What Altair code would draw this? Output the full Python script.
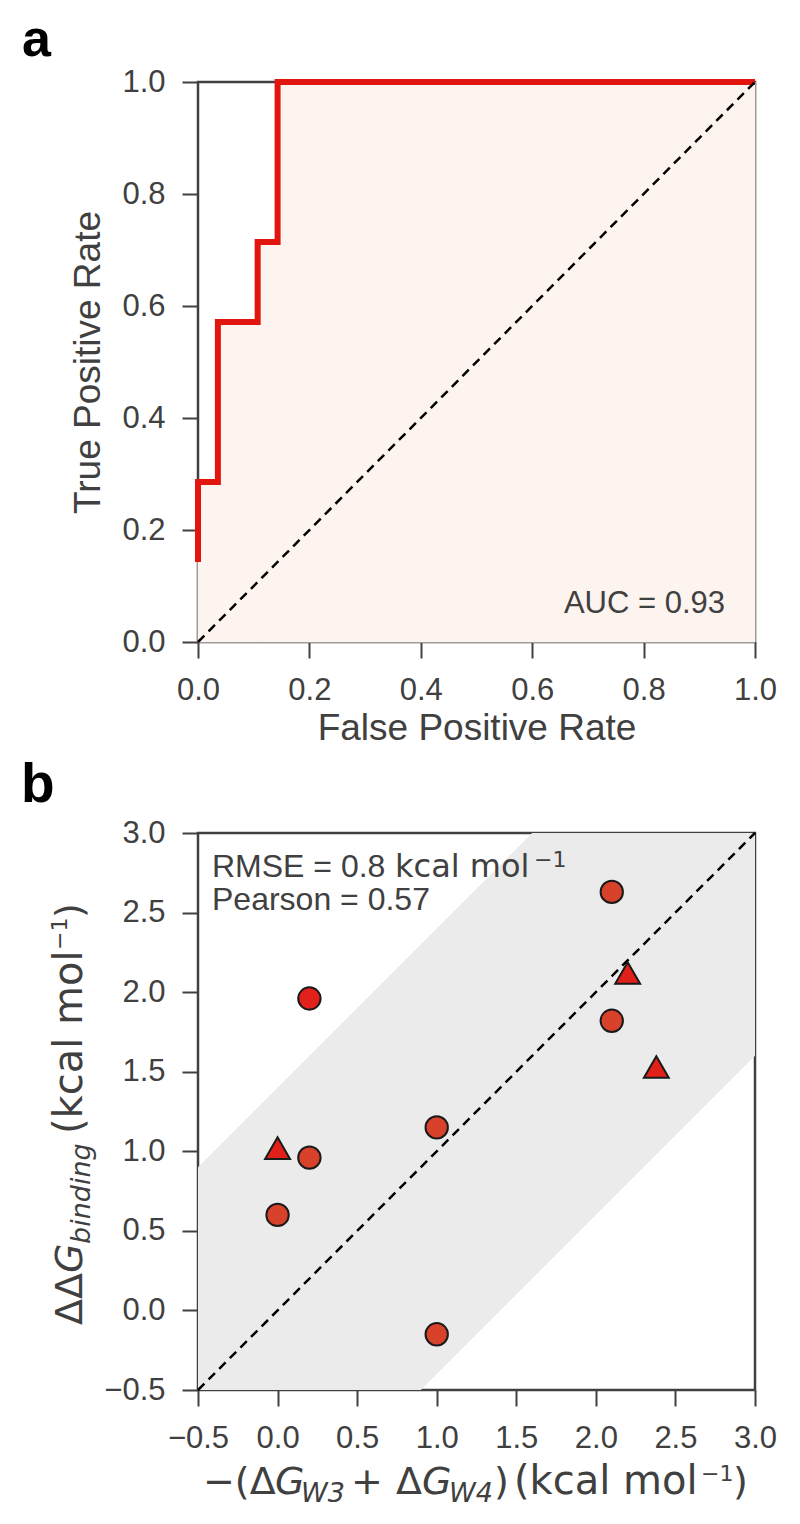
import altair as alt
import pandas as pd

# ---------------- Panel a: ROC curve ----------------
roc_fpr = [0.0, 0.0, 0.0357, 0.0357, 0.1071, 0.1071, 0.1429, 0.1429, 1.0]
roc_tpr = [0.1429, 0.2857, 0.2857, 0.5714, 0.5714, 0.7143, 0.7143, 1.0, 1.0]
diag_a = [0.0, 1.0]
ticks_a = [0.0, 0.2, 0.4, 0.6, 0.8, 1.0]
auc_text = "AUC = 0.93"

# ---------------- Panel b: scatter ----------------
circle_x = [2.1, 2.1, 0.2, 1.0, 0.2, 0.0, 1.0]
circle_y = [2.63, 1.82, 1.96, 1.15, 0.96, 0.60, -0.15]
circle_grp = ["in", "in", "out", "in", "in", "in", "in"]
tri_x = [2.2, 2.38, 0.0]
tri_y = [2.12, 1.53, 1.02]
diag_b = [-0.5, 3.0]
band_halfwidth = 1.4
ticks_b = [-0.5, 0.0, 0.5, 1.0, 1.5, 2.0, 2.5, 3.0]

GREY = "#404040"
SANS = "Liberation Sans"
MATH = "DejaVu Sans"


def piece(text, x, y, size=38, italic=False, angle=0, font=MATH,
          weight="normal", align="left", color=GREY):
    return alt.Chart(pd.DataFrame({"t": [text]})).mark_text(
        align=align, baseline="alphabetic", font=font, fontSize=size,
        fontStyle="italic" if italic else "normal", fontWeight=weight,
        angle=angle, color=color,
    ).encode(x=alt.value(x), y=alt.value(y), text="t:N")


W_A, H_A = 557, 560
W_B, H_B = 557, 557

# ---- panel a layers
sc_a = alt.Scale(domain=[0, 1], nice=False)
xa = alt.X("x:Q", scale=sc_a,
           axis=alt.Axis(values=ticks_a, format=".1f", title="False Positive Rate"))
ya = alt.Y("y:Q", scale=sc_a,
           axis=alt.Axis(values=ticks_a, format=".1f", title="True Positive Rate"))

# area under the step curve, built from the horizontal segments of the ROC curve
seg = [(roc_fpr[k], roc_fpr[k + 1], roc_tpr[k])
       for k in range(len(roc_fpr) - 1)
       if roc_tpr[k] == roc_tpr[k + 1] and roc_fpr[k + 1] > roc_fpr[k]]
df_fill = pd.DataFrame({"x": [s[0] for s in seg], "x2": [s[1] for s in seg],
                        "y": [s[2] for s in seg], "y0": [0.0] * len(seg)})
df_roc = pd.DataFrame({"x": roc_fpr, "y": roc_tpr, "i": range(len(roc_fpr))})
df_diag_a = pd.DataFrame({"x": diag_a, "y": diag_a})

FILL = "#fdf3ef"
fill_a = alt.Chart(df_fill).mark_rect(color=FILL, stroke=FILL,
                                      strokeWidth=1, opacity=1).encode(
    x=xa, x2="x2:Q", y=ya, y2="y0:Q")
roc_line = alt.Chart(df_roc).mark_line(color="#e3160f", strokeWidth=6,
                                       interpolate="linear", strokeJoin="miter").encode(
    x="x:Q", y="y:Q", order="i:Q")
diag_line_a = alt.Chart(df_diag_a).mark_line(color="black", strokeWidth=2.5,
                                             strokeDash=[9, 6]).encode(x="x:Q", y="y:Q")

panel_a = alt.layer(
    fill_a, roc_line, diag_line_a,
    piece(auc_text, 527, 531, size=31, font=SANS, align="right", color=GREY),
    piece("a", -176, -26, size=52, font=SANS, weight="bold", color="black"),
).properties(width=W_A, height=H_A)

# ---- panel b layers
sc_b = alt.Scale(domain=[-0.5, 3.0], nice=False)
xb = alt.X("x:Q", scale=sc_b, axis=alt.Axis(values=ticks_b, format=".1f", title=None))

df_band = pd.DataFrame({"x": diag_b,
                        "lo": [v - band_halfwidth for v in diag_b],
                        "hi": [v + band_halfwidth for v in diag_b]})
df_diag_b = pd.DataFrame({"x": diag_b, "y": diag_b})
df_circ = pd.DataFrame({"x": circle_x, "y": circle_y, "g": circle_grp})
df_tri = pd.DataFrame({"x": tri_x, "y": tri_y})

band = alt.Chart(df_band).mark_area(color="#ebebeb", opacity=1, clip=True).encode(
    x=xb, y=alt.Y("hi:Q", stack=None, scale=sc_b,
                  axis=alt.Axis(values=ticks_b, format=".1f", title=None)),
    y2="lo:Q")
diag_line_b = alt.Chart(df_diag_b).mark_line(color="black", strokeWidth=2.5,
                                             strokeDash=[9, 6]).encode(x="x:Q", y="y:Q")
circles = alt.Chart(df_circ).mark_point(shape="circle", filled=True, size=500,
                                        stroke="#1a1a1a", strokeWidth=2, opacity=1).encode(
    x="x:Q", y="y:Q",
    fill=alt.Fill("g:N", scale=alt.Scale(domain=["in", "out"], range=["#d8412a", "#e2201c"]),
                  legend=None))
triangles = alt.Chart(df_tri).mark_point(shape="triangle-up", filled=True, size=620,
                                         fill="#e2201a", stroke="#1a1a1a", strokeWidth=2,
                                         opacity=1).encode(x="x:Q", y="y:Q")

annot_b = [
    piece("RMSE = 0.8", 14, 44, size=32, font=SANS),
    piece("kcal mol", 197, 44, size=32, font=MATH),
    piece("\u22121", 336, 34, size=22, font=MATH),
    piece("Pearson = 0.57", 14, 77, size=32, font=SANS),
]

# x axis title: -(dG_W3 + dG_W4) (kcal mol^-1)
XT, XS, XP = 661, 669, 648
xtitle_b = [
    piece("\u2212(\u0394", 5, XT),
    piece("G", 77, XT, italic=True),
    piece("W3", 103, XS, size=27, italic=True),
    piece("+", 153, XT),
    piece("\u0394", 198, XT),
    piece("G", 224, XT, italic=True),
    piece("W4", 251, XS, size=27, italic=True),
    piece(")", 296, XT),
    piece("(kcal mol", 316, XT, size=40),
    piece("\u22121", 503, XP, size=22),
    piece(")", 535, XT),
]

# y axis title: ddG_binding (kcal mol^-1), rotated
YB, YS, YP = -116, -108, -131
ytitle_b = [
    piece("\u0394\u0394", YB, 492, angle=270),
    piece("G", YB, 440, angle=270, italic=True),
    piece("binding", YS, 411, size=27, angle=270, italic=True),
    piece("(kcal mol", YB, 301, size=40, angle=270),
    piece("\u22121", YP, 117, size=22, angle=270),
    piece(")", YB, 85, angle=270),
]

panel_b = alt.layer(
    band, diag_line_b, circles, triangles, *annot_b, *xtitle_b, *ytitle_b,
    piece("b", -177, -31, size=55, font=SANS, weight="bold", color="black"),
).properties(width=W_B, height=H_B)

chart = alt.vconcat(panel_a, panel_b, spacing=8).properties(
    padding={"left": 11, "top": 4, "right": 5, "bottom": 2}
).configure_view(
    stroke=GREY, strokeWidth=2.5
).configure_axis(
    domain=False, grid=False, tickColor=GREY, tickWidth=2, tickSize=16,
    labelFont=SANS, labelFontSize=31, labelColor=GREY, labelOverlap=False,
    labelFlush=False,
    titleFont=SANS, titleFontSize=37, titleColor=GREY, titleFontWeight="normal",
).configure_axisX(
    labelPadding=17, titlePadding=5
).configure_axisY(
    labelPadding=17, titlePadding=14
)

chart.save("out.html", embed_options={"renderer": "svg", "actions": False})
